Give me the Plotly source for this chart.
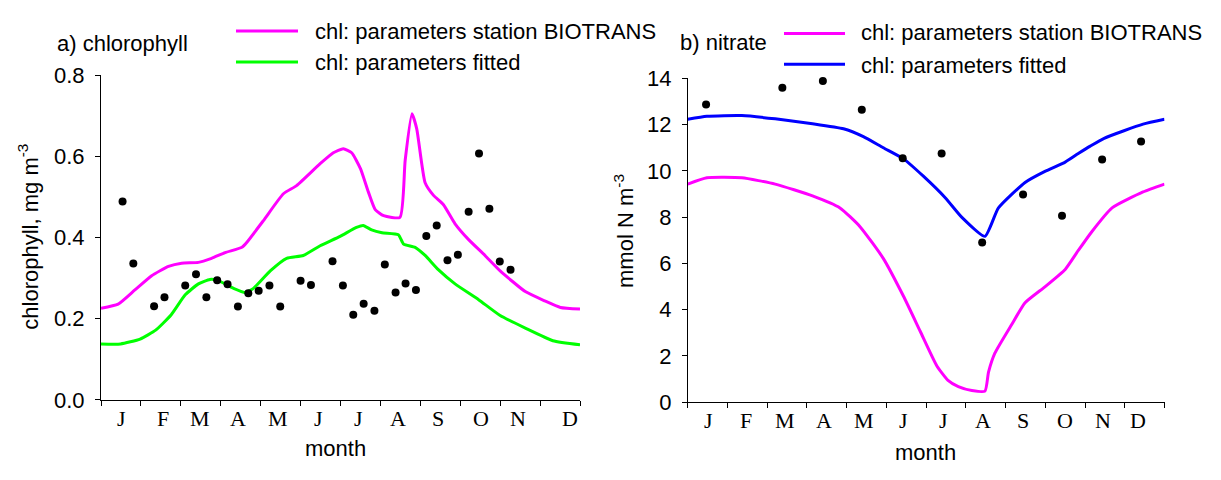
import plotly.graph_objects as go

# ---------------- data (month axis: 0 = start Jan, 12 = end Dec) ----------------
month_letters = ["J", "F", "M", "A", "M", "J", "J", "A", "S", "O", "N", "D"]
month_bounds = list(range(13))
left_label_pos = [0.52, 1.55, 2.49, 3.43, 4.44, 5.44, 6.44, 7.44, 8.44, 9.51, 10.44, 11.75]
right_label_pos = [0.52, 1.47, 2.45, 3.43, 4.43, 5.44, 6.44, 7.43, 8.45, 9.50, 10.45, 11.33]

chl_biotrans_t = [0, 0.43, 0.85, 1.27, 1.69, 2.02, 2.44, 2.77, 3.11, 3.53, 3.65, 4.07, 4.57, 4.90,
                  5.49, 5.82, 6.07, 6.28, 6.50, 6.70, 6.87, 7.08, 7.49, 7.62, 7.79, 7.91, 8.12,
                  8.33, 8.58, 8.87, 9.21, 9.62, 10.0, 10.63, 11.12, 11.51, 12.0]
chl_biotrans_v = [0.226, 0.236, 0.271, 0.306, 0.329, 0.337, 0.339, 0.349, 0.363, 0.376, 0.388, 0.442,
                  0.508, 0.528, 0.582, 0.609, 0.619, 0.609, 0.570, 0.512, 0.469, 0.454, 0.450, 0.590,
                  0.705, 0.668, 0.535, 0.504, 0.481, 0.434, 0.395, 0.356, 0.318, 0.267, 0.244, 0.228,
                  0.224]

chl_fitted_t = [0, 0.49, 0.98, 1.37, 1.76, 2.11, 2.44, 2.73, 2.94, 3.32, 3.61, 3.82, 4.24, 4.65,
                5.07, 5.49, 5.99, 6.40, 6.57, 6.78, 7.04, 7.45, 7.58, 7.87, 8.12, 8.45, 8.87, 9.46,
                10.0, 10.63, 11.32, 12.0]
chl_fitted_v = [0.138, 0.138, 0.150, 0.172, 0.210, 0.259, 0.286, 0.297, 0.294, 0.275, 0.265, 0.275,
                0.318, 0.349, 0.356, 0.380, 0.403, 0.425, 0.430, 0.419, 0.412, 0.407, 0.384, 0.376,
                0.356, 0.321, 0.286, 0.247, 0.208, 0.177, 0.146, 0.136]

chl_obs_t = [0.54, 0.81, 1.33, 1.59, 2.11, 2.38, 2.64, 2.91, 3.17, 3.43, 3.69, 3.95, 4.22, 4.49,
             5.00, 5.26, 5.80, 6.06, 6.32, 6.58, 6.85, 7.11, 7.38, 7.63, 7.89, 8.15, 8.41, 8.68,
             8.94, 9.21, 9.47, 9.73, 9.99, 10.26]
chl_obs_v = [0.489, 0.336, 0.231, 0.253, 0.282, 0.310, 0.253, 0.295, 0.285, 0.230, 0.263, 0.269,
             0.282, 0.230, 0.294, 0.283, 0.342, 0.282, 0.210, 0.237, 0.220, 0.334, 0.265, 0.287,
             0.271, 0.404, 0.430, 0.344, 0.358, 0.464, 0.607, 0.471, 0.341, 0.321]

no3_biotrans_t = [0, 0.48, 1.36, 2.20, 3.14, 3.83, 4.34, 4.92, 5.43, 5.85, 6.27, 6.55, 6.81, 7.15,
                  7.48, 7.57, 7.73, 8.15, 8.49, 8.99, 9.50, 9.83, 10.16, 10.68, 11.46, 12.0]
no3_biotrans_v = [9.43, 9.70, 9.70, 9.43, 8.92, 8.40, 7.58, 6.22, 4.58, 3.07, 1.57, 0.95, 0.68, 0.51,
                  0.48, 1.30, 2.12, 3.35, 4.30, 4.99, 5.74, 6.56, 7.35, 8.40, 9.09, 9.43]

no3_fitted_t = [0, 0.48, 1.36, 2.20, 3.14, 3.92, 4.42, 4.92, 5.43, 5.93, 6.48, 6.90, 7.48, 7.82,
                8.49, 8.99, 9.50, 9.83, 10.13, 10.48, 11.46, 12.0]
no3_fitted_v = [12.23, 12.36, 12.39, 12.25, 12.04, 11.82, 11.48, 11.0, 10.52, 9.77, 8.84, 7.99, 7.17,
                8.40, 9.50, 9.98, 10.38, 10.75, 11.07, 11.41, 12.02, 12.23]

no3_obs_t = [0.46, 2.38, 3.40, 4.38, 5.41, 6.39, 7.41, 8.44, 9.42, 10.43, 11.41]
no3_obs_v = [12.87, 13.59, 13.89, 12.64, 10.55, 10.75, 6.90, 8.98, 8.06, 10.49, 11.27]

chl_ticks = [0.0, 0.2, 0.4, 0.6, 0.8]
no3_ticks = [0, 2, 4, 6, 8, 10, 12, 14]

# ---------------- figure ----------------
W, H = 1221, 480
MAGENTA, GREEN, BLUE = "#FF00FF", "#00FF00", "#0000FF"
SANS = "Liberation Sans"
SERIF = "Liberation Serif"
FS = 22


def fx(p):
    return p / W


def fy(p):
    return 1 - p / H


fig = go.Figure()
line_kw = dict(width=3, shape="spline", smoothing=0.5)
fig.add_trace(go.Scatter(x=chl_biotrans_t, y=chl_biotrans_v, mode="lines",
                         line=dict(color=MAGENTA, **line_kw), xaxis="x", yaxis="y"))
fig.add_trace(go.Scatter(x=chl_fitted_t, y=chl_fitted_v, mode="lines",
                         line=dict(color=GREEN, **line_kw), xaxis="x", yaxis="y"))
fig.add_trace(go.Scatter(x=chl_obs_t, y=chl_obs_v, mode="markers", cliponaxis=False,
                         marker=dict(color="black", size=8), xaxis="x", yaxis="y"))
fig.add_trace(go.Scatter(x=no3_biotrans_t, y=no3_biotrans_v, mode="lines",
                         line=dict(color=MAGENTA, **line_kw), xaxis="x2", yaxis="y2"))
fig.add_trace(go.Scatter(x=no3_fitted_t, y=no3_fitted_v, mode="lines",
                         line=dict(color=BLUE, **line_kw), xaxis="x2", yaxis="y2"))
fig.add_trace(go.Scatter(x=no3_obs_t, y=no3_obs_v, mode="markers", cliponaxis=False,
                         marker=dict(color="black", size=8), xaxis="x2", yaxis="y2"))

xaxis_common = dict(range=[0, 12], tickvals=month_bounds, showticklabels=False, ticks="outside",
                    ticklen=5, tickwidth=1, tickcolor="black", showline=True, linecolor="black",
                    linewidth=1, showgrid=False, zeroline=False, fixedrange=True)
yaxis_common = dict(ticks="outside", ticklen=5, tickwidth=1, tickcolor="black", showline=True,
                    linecolor="black", linewidth=1, showgrid=False, zeroline=False,
                    tickfont=dict(family=SANS, size=FS, color="black"), ticklabelstandoff=6,
                    fixedrange=True)

fig.update_layout(
    width=W, height=H, margin=dict(l=0, r=0, t=0, b=0), showlegend=False,
    paper_bgcolor="white", plot_bgcolor="white",
    font=dict(family=SANS, size=FS, color="black"),
    xaxis=dict(domain=[fx(101), fx(580)], anchor="y", **xaxis_common),
    yaxis=dict(domain=[fy(409.3), fy(66.7)], anchor="x", range=[0, 0.8], tickvals=chl_ticks,
               tickformat=".1f", **yaxis_common),
    xaxis2=dict(domain=[fx(687.8), fx(1164.5)], anchor="y2", **xaxis_common),
    yaxis2=dict(domain=[fy(411.7), fy(70)], anchor="x2", range=[0, 14], tickvals=no3_ticks,
                **yaxis_common),
)

ann = []
for lab, pos in zip(month_letters, left_label_pos):
    ann.append(dict(x=pos, y=fy(428.5), xref="x", yref="paper", text=lab, showarrow=False,
                    xanchor="center", yanchor="middle", font=dict(family=SERIF, size=FS)))
for lab, pos in zip(month_letters, right_label_pos):
    ann.append(dict(x=pos, y=fy(430.7), xref="x2", yref="paper", text=lab, showarrow=False,
                    xanchor="center", yanchor="middle", font=dict(family=SERIF, size=FS)))

texts = [
    (335, 461, "month", "center", 0),
    (925, 465, "month", "center", 0),
    (28, 237, "chlorophyll, mg m<sup>-3</sup>", "center", -90),
    (624, 231, "mmol N m<sup>-3</sup>", "center", -90),
    (55, 33, "a) chlorophyll", "left", 0),
    (678, 32, "b) nitrate", "left", 0),
    (313, 21, "chl: parameters station BIOTRANS", "left", 0),
    (313, 53, "chl: parameters fitted", "left", 0),
    (859, 22, "chl: parameters station BIOTRANS", "left", 0),
    (859, 56, "chl: parameters fitted", "left", 0),
]
for x, y, t, xa, ang in texts:
    ann.append(dict(x=fx(x), y=fy(y), xref="paper", yref="paper", text=t, showarrow=False,
                    xanchor=xa, yanchor="middle", textangle=ang,
                    font=dict(family=SANS, size=FS, color="black")))
fig.update_layout(annotations=ann)

# legend sample lines
shapes = []
for x0, x1, y, c in [(236, 298, 20, MAGENTA), (236, 298, 52.7, GREEN),
                     (784, 845, 22.7, MAGENTA), (784, 845, 55, BLUE)]:
    shapes.append(dict(type="line", xref="paper", yref="paper", x0=fx(x0), x1=fx(x1),
                       y0=fy(y), y1=fy(y), line=dict(color=c, width=3)))
fig.update_layout(shapes=shapes)

fig.write_html("out.html")
